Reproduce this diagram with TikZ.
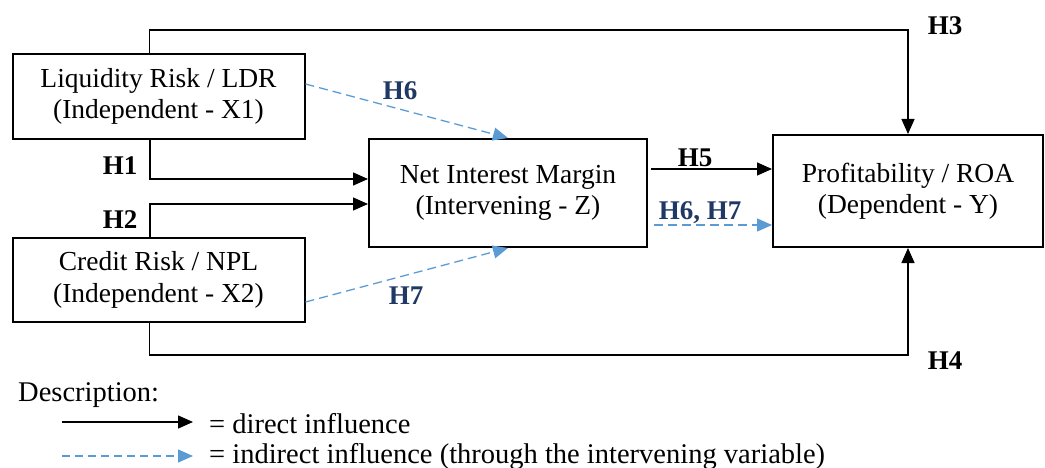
\documentclass[tikz,border=0pt]{standalone}
\usepackage{fontspec}
\setmainfont{Liberation Serif}
\usetikzlibrary{arrows.meta,calc}
\definecolor{lineblue}{HTML}{5B9BD5}
\definecolor{labelblue}{HTML}{1F3864}
\begin{document}
\begin{tikzpicture}[x=1pt,y=-1pt,
  font=\fontsize{27.5}{31.5}\selectfont,
  box/.style={draw=black,line width=2pt,align=center,inner sep=0pt},
  direct/.style={draw=black,line width=1.3pt,-{Triangle[length=15pt,width=13pt]}},
  indirect/.style={draw=lineblue,line width=1.3pt,dash pattern=on 9pt off 5pt,-{Triangle[length=15pt,width=13pt]}},
  hlab/.style={font=\fontsize{27}{31.5}\selectfont\bfseries,inner sep=0pt},
  hblue/.style={hlab,text=labelblue},
  legtext/.style={anchor=base west,inner sep=0pt,font=\fontsize{28.5}{31.5}\selectfont}]
\useasboundingbox (0,0) rectangle (1045,468);

% boxes
\node[box,minimum width=292pt,minimum height=85pt] (ldr) at (158.5,96.5) {Liquidity Risk / LDR\\(Independent - X1)};
\node[box,minimum width=292pt,minimum height=84pt] (npl) at (158.5,280) {Credit Risk / NPL\\(Independent - X2)};
\node[box,minimum width=278pt,minimum height=108pt] (nim) at (508,193) {Net Interest Margin\\(Intervening - Z)};
\node[box,minimum width=270pt,minimum height=112pt] (roa) at (908,191) {Profitability / ROA\\(Dependent - Y)};

% direct paths
\draw[direct] ([xshift=-9pt]ldr.north) -- ++(0,-23) -| (roa.north);
\draw[direct] ([xshift=-9pt]npl.south) -- ++(0,32) -| (roa.south);
\draw[direct] ([xshift=-8.5pt]ldr.south) |- ([yshift=14pt]nim.west);
\draw[direct] ([xshift=-8.5pt]npl.north) |- ([yshift=-11pt]nim.west);
\draw[direct,shorten <=3pt] ([yshift=24pt]nim.east) -- ([yshift=22pt]roa.west);

% indirect paths
\draw[indirect] ([yshift=12.5pt]ldr.east) -- (nim.north);
\draw[indirect] ([yshift=-22pt]npl.east) -- (nim.south);
\draw[indirect,shorten <=6pt] ([yshift=-32pt]nim.east) -- ([yshift=-34pt]roa.west);

% labels
\node[hlab] (h1) at (120,166) {H1};
\node[hlab] (h2) at (120,220) {H2};
\node[hlab] (h3) at (945,26) {H3};
\node[hlab] (h4) at (945,361) {H4};
\node[hlab] (h5) at (695,157.5) {H5};
\node[hblue] (h6) at (400,91) {H6};
\node[hblue] (h7) at (406,296) {H7};
\node[hblue] (h67) at (700,213) {H6, H7};

% legend
\node[legtext] (desc) at (18,401.5) {Description:};
\coordinate (ls1) at (62,422);
\coordinate (ls2) at (193,422);
\coordinate (ld1) at (62,456);
\coordinate (ld2) at (193,456);
\draw[direct] (ls1) -- (ls2);
\draw[indirect,dash pattern=on 8pt off 5pt] (ld1) -- (ld2);
\node[legtext] (t1) at (209,433) {= direct influence};
\node[legtext] (t2) at (209,463) {= indirect influence (through the intervening variable)};
\end{tikzpicture}
\end{document}
